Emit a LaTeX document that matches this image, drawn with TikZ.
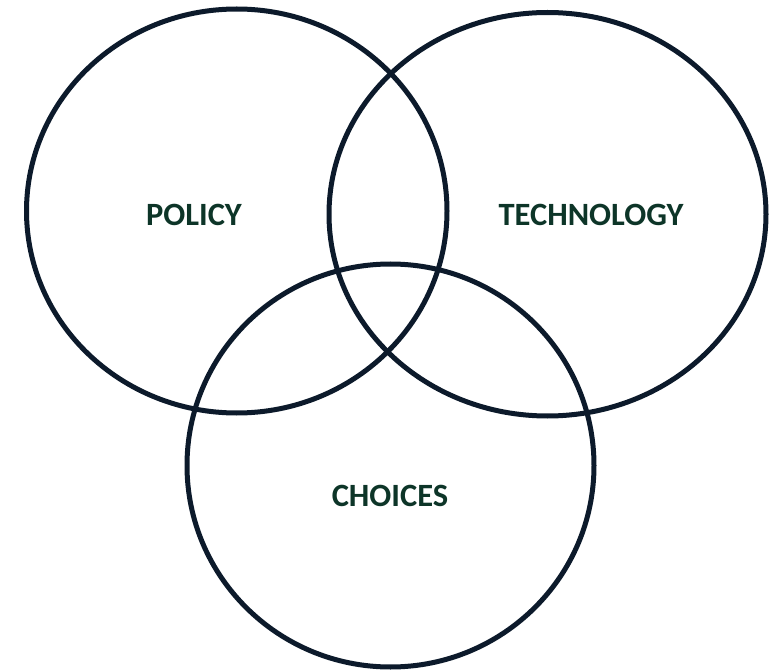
\documentclass[tikz,border=0pt]{standalone}
\usepackage{fontspec}
\setmainfont{Carlito}
\definecolor{ringcol}{HTML}{0C1A2B}
\definecolor{labelcol}{HTML}{0D3528}
\begin{document}
\begin{tikzpicture}[x=1pt, y=-1pt, ring/.style={line width=5pt, draw=ringcol}, lbl/.style={text=labelcol, font=\fontsize{32.5}{38}\selectfont\bfseries, inner sep=0pt}]
        \useasboundingbox (0, 0) rectangle (769, 671);
\draw[ring] (236.75, 211) ellipse [x radius=210.25, y radius=202];
\draw[ring] (547.5, 214.25) ellipse [x radius=218.5, y radius=201.75];
\draw[ring] (390.5, 465.5) ellipse [x radius=203.5, y radius=201.5];
	\node[lbl] (policy) at (194, 215) {POLICY};
	\node[lbl] (technology) at (591, 215) {TECHNOLOGY};
	\node[lbl] (choices) at (390, 496) {CHOICES};\end{tikzpicture}
\end{document}
